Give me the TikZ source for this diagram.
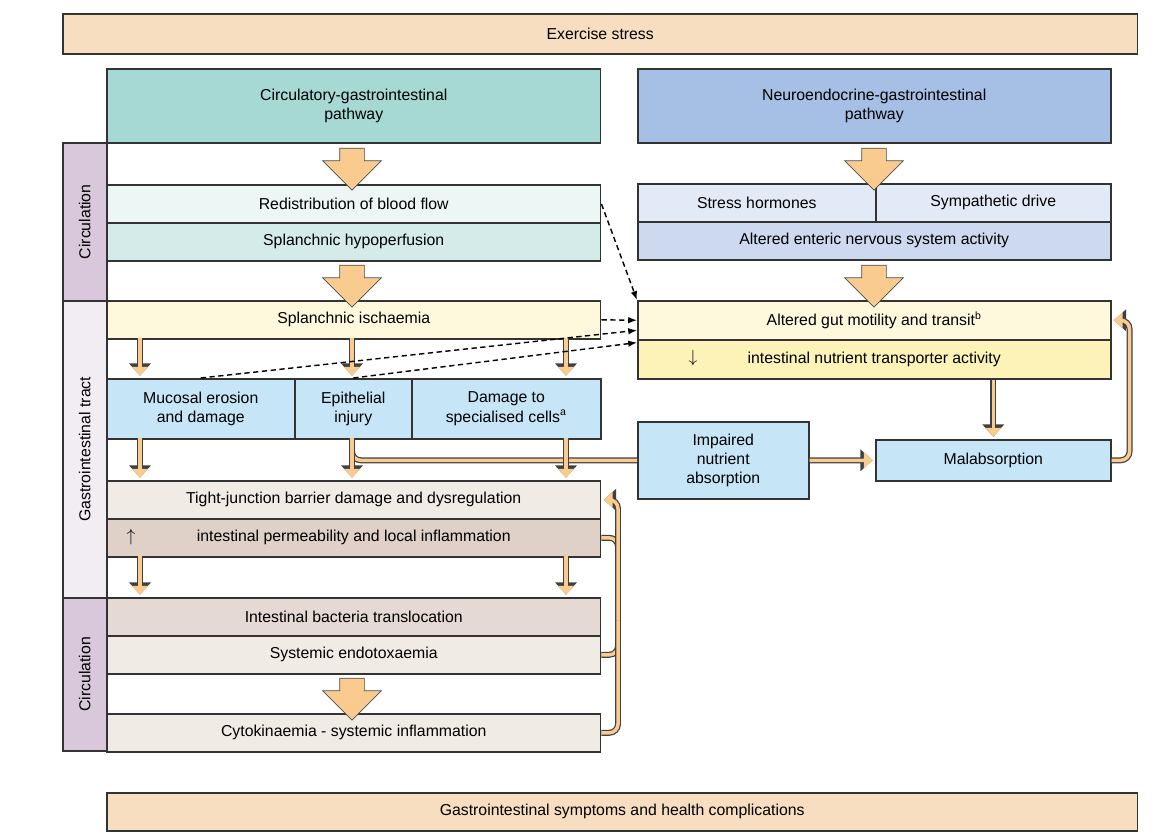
\documentclass[tikz,border=0pt]{standalone}
\usepackage{fontspec}
\setmainfont{Liberation Sans}
\usetikzlibrary{shapes.arrows,arrows.meta,calc}
\definecolor{peach}{HTML}{F8DEC0}
\definecolor{arrowc}{HTML}{F9CB8F}
\definecolor{teal1}{HTML}{A6D9D3}
\definecolor{blue1}{HTML}{A5C0E4}
\definecolor{purp}{HTML}{D9C8DB}
\definecolor{purpl}{HTML}{F2ECF3}
\definecolor{tealA}{HTML}{ECF6F4}
\definecolor{tealB}{HTML}{D4EBE9}
\definecolor{blueA}{HTML}{E3EAF7}
\definecolor{blueB}{HTML}{CDD9EF}
\definecolor{yelA}{HTML}{FEF9DD}
\definecolor{yelB}{HTML}{FDF2B7}
\definecolor{sky}{HTML}{C6E6F8}
\definecolor{brA}{HTML}{F1EBE6}
\definecolor{brB}{HTML}{DFD0C8}
\tikzset{
  box/.style={draw=black!80, line width=0.9pt, anchor=north west, inner sep=0pt, align=center,
    font=\fontsize{9}{11}\selectfont},
  side/.style={box, minimum width=0.88cm, fill=purp},
  bigarr/.style={single arrow, draw=black!70, fill=arrowc, shape border rotate=270,
    minimum height=0.84cm, inner sep=0.24cm, single arrow head extend=0.34cm},
  fat/.style={preaction={draw=black!75, line width=3.4pt, -{Triangle[length=7pt,width=12pt]}},
    draw=arrowc, line width=2pt, shorten >=1.3pt, -{Triangle[length=5pt,width=9pt]}},
  fatline/.style={preaction={draw=black!75, line width=3.4pt}, draw=arrowc, line width=2pt, rounded corners=5pt},
  dasharr/.style={densely dashed, line width=0.8pt, -{Latex[length=5pt]}}
}
\begin{document}
\begin{tikzpicture}[x=0.02cm,y=-0.02cm]
\useasboundingbox (0,0) rectangle (1176,838);
% top and bottom
\node (stress) [box, fill=peach, minimum width=21.5cm, minimum height=0.8cm] at (62,13) {Exercise stress};
\node (sympt) [box, fill=peach, minimum width=20.62cm, minimum height=0.76cm] at (106,792) {Gastrointestinal symptoms and health complications};
% side bars
\node (circ1) [side, minimum height=3.16cm] at (62,142) {};
\node (gitract) [side, fill=purpl, minimum height=5.94cm] at (62,300) {};
\node (circ2) [side, minimum height=3.06cm] at (62,597) {};
\node [rotate=90, font=\fontsize{9}{11}\selectfont] at (circ1) {Circulation};
\node [rotate=90, font=\fontsize{9}{11}\selectfont] at (gitract) {Gastrointestinal tract};
\node [rotate=90, font=\fontsize{9}{11}\selectfont] at (circ2) {Circulation};
% pathways
\node (circpath) [box, fill=teal1, minimum width=9.88cm, minimum height=1.48cm] at (106,68) {Circulatory-gastrointestinal\\pathway};
\node (neuropath) [box, fill=blue1, minimum width=9.46cm, minimum height=1.48cm] at (637,68) {Neuroendocrine-gastrointestinal\\pathway};
% left column
\node (redist) [box, fill=tealA, minimum width=9.88cm, minimum height=0.76cm] at (106,184) {Redistribution of blood flow};
\node (hypo) [box, fill=tealB, minimum width=9.88cm, minimum height=0.76cm] at (106,222) {Splanchnic hypoperfusion};
\node (isch) [box, fill=yelA, minimum width=9.88cm, minimum height=0.76cm] at (106,300) {Splanchnic ischaemia};
\node (mucosal) [box, fill=sky, minimum width=3.76cm, minimum height=1.2cm] at (106,378) {Mucosal erosion\\and damage};
\node (epith) [box, fill=sky, minimum width=2.34cm, minimum height=1.2cm] at (294,378) {Epithelial\\injury};
\node (special) [box, fill=sky, minimum width=3.78cm, minimum height=1.2cm] at (411,378) {Damage to\\specialised cells\textsuperscript{a}};
\node (tight) [box, fill=brA, minimum width=9.88cm, minimum height=0.76cm] at (106,480) {Tight-junction barrier damage and dysregulation};
\node (perm) [box, fill=brB, minimum width=9.88cm, minimum height=0.76cm] at (106,518) {intestinal permeability and local inflammation};
\node at (131,537) {$\uparrow$};
\node (bact) [box, fill=brB!80, minimum width=9.88cm, minimum height=0.76cm] at (106,597) {Intestinal bacteria translocation};
\node (endo) [box, fill=brA, minimum width=9.88cm, minimum height=0.76cm] at (106,635) {Systemic endotoxaemia};
\node (cyto) [box, fill=brA, minimum width=9.88cm, minimum height=0.76cm] at (106,713) {Cytokinaemia - systemic inflammation};
% right column
\node (hormones) [box, fill=blueA, minimum width=4.76cm, minimum height=0.76cm] at (637,183) {Stress hormones};
\node (symdrive) [box, fill=blueA, minimum width=4.7cm, minimum height=0.76cm] at (875,183) {Sympathetic drive};
\node (enteric) [box, fill=blueB, minimum width=9.46cm, minimum height=0.76cm] at (637,221) {Altered enteric nervous system activity};
\node (motil) [box, fill=yelA, minimum width=9.46cm, minimum height=0.78cm] at (637,300) {Altered gut motility and transit\textsuperscript{b}};
\node (transp) [box, fill=yelB, minimum width=9.46cm, minimum height=0.78cm] at (637,339) {intestinal nutrient transporter activity};
\node at (693,358) {$\downarrow$};
\node (impair) [box, fill=sky, minimum width=3.42cm, minimum height=1.54cm] at (637,421) {Impaired\\nutrient\\absorption};
\node (malab) [box, fill=sky, minimum width=4.7cm, minimum height=0.82cm] at (875,439) {Malabsorption};
% big arrows
\node [bigarr] at (352,163) {};
\node [bigarr] at (352,280) {};
\node [bigarr] at (874,163) {};
\node [bigarr] at (874,280) {};
\node [bigarr] at (352,693) {};
% small arrows
\foreach \x in {140,352,566} {
  \draw [fat] (\x,338) -- (\x,378);
}
\draw [fatline] (352,438) |- (impair.west);
\foreach \x in {140,352,566} {
  \draw [fat] (\x,438) -- (\x,480);
}
\foreach \x in {140,566} {
  \draw [fat] (\x,556) -- (\x,597);
}
\draw [fat] (transp.south -| malab) -- (malab.north);
\draw [fat] (impair.east) -- (malab.west);
\draw [fat, rounded corners=5pt] (malab.east) -- ++(18,0) |- (motil.east);
% feedback loop
\draw [fatline] (perm.east) -| (618,600);
\draw [fatline] (endo.east) -| (618,600);
\draw [fatline] (cyto.east) -| (618,600);
\draw [fat, rounded corners=5pt] (618,620) |- (tight.east);
% dashed
\draw [dasharr] (redist.north east) ++(0,20) -- (motil.north west);
\draw [dasharr] (isch.east) -- (motil.west);
\draw [dasharr] (mucosal.north) -- ($(motil.west)+(0,10)$);
\draw [dasharr] (epith.north) -- ($(motil.south west)+(0,2)$);
\end{tikzpicture}
\end{document}
